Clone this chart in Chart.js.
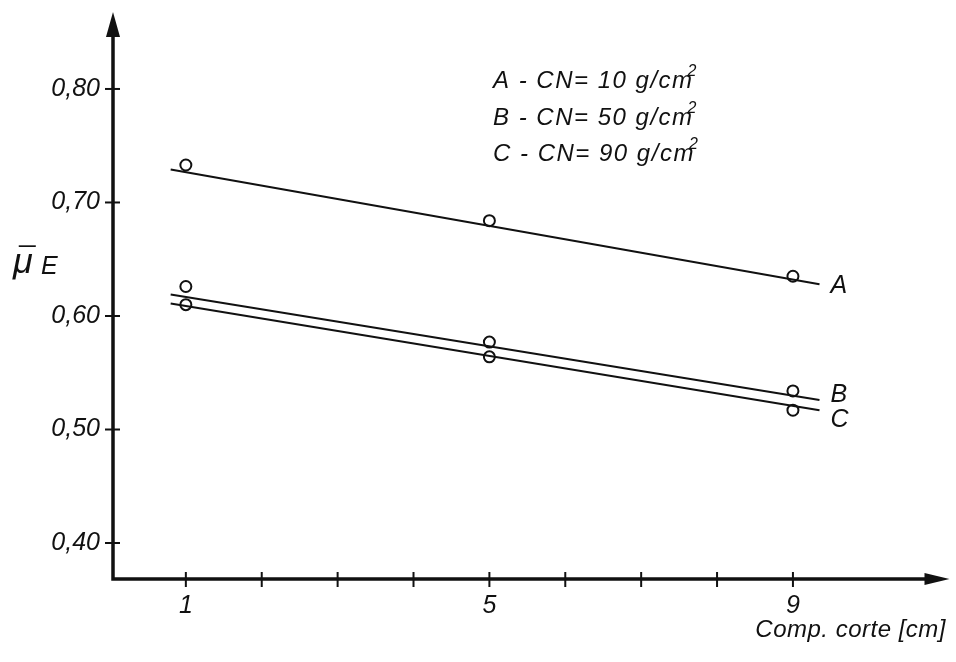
<!DOCTYPE html>
<html><head><meta charset="utf-8">
<script src="https://cdn.jsdelivr.net/npm/chart.js@4/dist/chart.umd.min.js"></script>
<style>html,body{margin:0;padding:0;background:#fff}#wrap{width:956px;height:662px}</style>
</head><body><div id="wrap"><canvas id="c" width="956" height="662"></canvas></div>
<script>
// ---- data ----
const xValues = [1, 5, 9];
const seriesA = [0.733, 0.684, 0.635];
const seriesB = [0.626, 0.577, 0.534];
const seriesC = [0.610, 0.564, 0.517];
// fitted straight lines (endpoints as drawn)
const fitX = [0.80, 9.35];
const fitA = [0.729, 0.628];
const fitB = [0.619, 0.526];
const fitC = [0.611, 0.517];
const seriesNames = ['A', 'B', 'C'];
const legendLines = ['A - CN= 10 g/cm', 'B - CN= 50 g/cm', 'C - CN= 90 g/cm'];
const yTicks = [0.40, 0.50, 0.60, 0.70, 0.80];
const xTicks = [1, 2, 3, 4, 5, 6, 7, 8, 9];
const xTickLabels = ['1', '', '', '', '5', '', '', '', '9'];
const xTitle = 'Comp. corte [cm]';
const yTitle = 'μ';
const yTitleBar = '\u00AF';
const yTitleSub = 'E';

const INK = '#111';
const FONT = 'Liberation Sans, Arial, sans-serif';

function pts(xs, ys){ return xs.map((x,i)=>({x:x, y:ys[i]})); }

const decor = {
  id: 'decor',
  afterDraw(chart){
    const ctx = chart.ctx, xs = chart.scales.x, ys = chart.scales.y, a = chart.chartArea;
    ctx.save();
    ctx.strokeStyle = INK; ctx.fillStyle = INK;
    // axes
    ctx.lineWidth = 3.5; ctx.lineCap = 'square';
    ctx.beginPath();
    ctx.moveTo(a.left, a.top + 22); ctx.lineTo(a.left, a.bottom); ctx.lineTo(a.right - 18, a.bottom);
    ctx.stroke();
    // arrow heads
    ctx.beginPath();
    ctx.moveTo(a.left, a.top); ctx.lineTo(a.left - 7, a.top + 25); ctx.lineTo(a.left + 7, a.top + 25); ctx.closePath(); ctx.fill();
    ctx.beginPath();
    ctx.moveTo(a.right + 1, a.bottom); ctx.lineTo(a.right - 24, a.bottom - 6); ctx.lineTo(a.right - 24, a.bottom + 6); ctx.closePath(); ctx.fill();
    // crossing ticks
    ctx.lineWidth = 2; ctx.lineCap = 'butt';
    yTicks.forEach(v=>{ const y = ys.getPixelForValue(v); ctx.beginPath(); ctx.moveTo(a.left-8,y); ctx.lineTo(a.left+7,y); ctx.stroke(); });
    xTicks.forEach(v=>{ const x = xs.getPixelForValue(v); ctx.beginPath(); ctx.moveTo(x,a.bottom-7); ctx.lineTo(x,a.bottom+8); ctx.stroke(); });
    // legend text
    ctx.textAlign = 'left'; ctx.textBaseline = 'alphabetic';
    legendLines.forEach((t,i)=>{
      const by = 88 + i*36.5;
      ctx.font = 'italic 24px ' + FONT;
      ctx.letterSpacing = '1.5px';
      ctx.fillText(t, 493, by);
      const w = ctx.measureText(t).width;
      ctx.letterSpacing = '0px';
      ctx.font = 'italic 16px ' + FONT;
      ctx.fillText('2', 493 + w - 6, by - 12);
    });
    // series labels at line ends
    ctx.font = 'italic 25px ' + FONT;
    const ends = [fitA[1], fitB[1], fitC[1]];
    const offs = [9, 2, 17];
    seriesNames.forEach((n,i)=>{
      ctx.fillText(n, xs.getPixelForValue(fitX[1]) + 11, ys.getPixelForValue(ends[i]) + offs[i]);
    });
    // axis titles
    ctx.font = 'italic 24px ' + FONT;
    ctx.letterSpacing = '0.5px';
    ctx.textAlign = 'right';
    ctx.fillText(xTitle, 946, 637);
    ctx.letterSpacing = '0px';
    ctx.textAlign = 'left';
    ctx.font = 'italic 36px ' + FONT;
    ctx.fillText(yTitle, 13, 273);
    ctx.font = 'italic 30px ' + FONT;
    ctx.fillText(yTitleBar, 19, 269);
    ctx.font = 'italic 25px ' + FONT;
    ctx.fillText(yTitleSub, 41, 274);
    ctx.restore();
  }
};

const lineStyle = {showLine:true, borderColor:INK, borderWidth:2, pointRadius:0, fill:false};
const ptStyle = {showLine:false, pointStyle:'circle', pointRadius:5.5, pointBorderWidth:2, pointBorderColor:INK, pointBackgroundColor:'rgba(0,0,0,0)'};

new Chart(document.getElementById('c'), {
  type: 'scatter',
  data: { datasets: [
    Object.assign({label:'A fit', data: pts(fitX, fitA)}, lineStyle),
    Object.assign({label:'B fit', data: pts(fitX, fitB)}, lineStyle),
    Object.assign({label:'C fit', data: pts(fitX, fitC)}, lineStyle),
    Object.assign({label:'A', data: pts(xValues, seriesA)}, ptStyle),
    Object.assign({label:'B', data: pts(xValues, seriesB)}, ptStyle),
    Object.assign({label:'C', data: pts(xValues, seriesC)}, ptStyle)
  ]},
  options: {
    responsive:false, animation:false, devicePixelRatio:1,
    layout:{padding:{top:12, right:6, left:0, bottom:0}},
    plugins:{legend:{display:false}, tooltip:{enabled:false}},
    scales:{
      x:{type:'linear', min:0.04, max:11.05,
         grid:{display:false}, border:{display:false},
         afterBuildTicks(s){ s.ticks = xTicks.map(v=>({value:v})); },
         afterFit(s){ s.height = 83; s.paddingLeft = 0; s.paddingRight = 0; },
         ticks:{color:INK, padding:4, maxRotation:0, autoSkip:false,
           font:{family:FONT, size:25, style:'italic'},
           callback(v){ const i = xTicks.indexOf(v); return i>=0 ? xTickLabels[i] : ''; }}},
      y:{type:'linear', min:0.3683, max:0.8678,
         grid:{display:false}, border:{display:false},
         afterBuildTicks(s){ s.ticks = yTicks.map(v=>({value:v})); },
         afterFit(s){ s.width = 113; s.paddingTop = 0; s.paddingBottom = 0; },
         ticks:{color:INK, padding:5, autoSkip:false,
           font:{family:FONT, size:25, style:'italic'},
           callback(v){ return v.toFixed(2).replace('.', ','); }}}
    }
  },
  plugins:[decor]
});
</script>
</body></html>
